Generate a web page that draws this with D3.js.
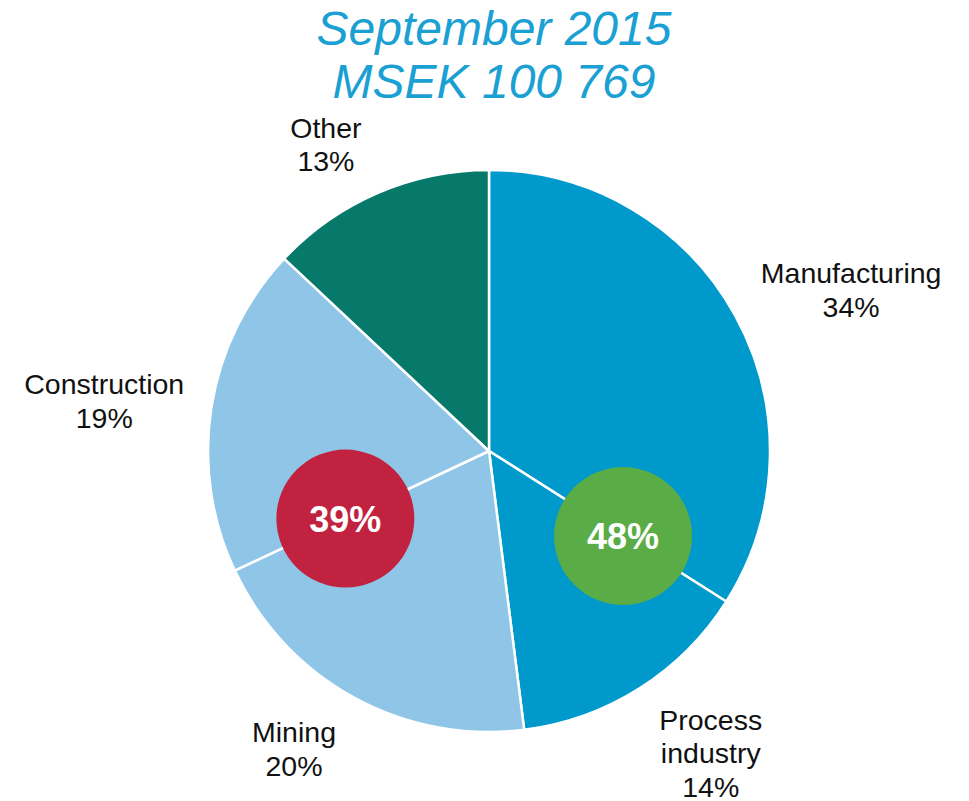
<!DOCTYPE html>
<html>
<head>
<meta charset="utf-8">
<script src="https://cdn.jsdelivr.net/npm/d3@7"></script>
<style>
  html, body { margin: 0; padding: 0; background: #ffffff; }
  svg { display: block; }
</style>
</head>
<body>
<script>
var width = 969;
var height = 801;

// data
var titleLines = ["September 2015", "MSEK 100 769"];
var categories = ["Manufacturing", "Process industry", "Mining", "Construction", "Other"];
var shares = [34, 14, 20, 19, 13];
var labelLines = [["Manufacturing"], ["Process", "industry"], ["Mining"], ["Construction"], ["Other"]];
var groupMembers = [["Manufacturing", "Process industry"], ["Mining", "Construction"]];

var sliceColors = ["#0099cc", "#0099cc", "#8fc6e7", "#8fc6e7", "#06796b"];
var groupColors = ["#5aad46", "#c1223f"];
var titleColor = "#1aa0d2";
var fontFamily = "'Liberation Sans', Arial, sans-serif";

var cx = 489, cy = 451, radius = 281;
var lineHeight = 33.5;
var labelFontSize = 28.5;
// small nudges so labels sit where the original put them
var labelNudge = {
  "Manufacturing": [42, 15],
  "Process industry": [26, -6],
  "Mining": [-19, -22],
  "Construction": [-24, 7],
  "Other": [-18, 29]
};

var rows = categories.map(function(c, i) {
  return { name: c, value: shares[i], lines: labelLines[i], color: sliceColors[i] };
});

var svg = d3.select("body").append("svg")
  .attr("width", width)
  .attr("height", height);

svg.append("text")
  .attr("x", 494)
  .attr("y", 45)
  .attr("text-anchor", "middle")
  .attr("font-family", fontFamily)
  .attr("font-style", "italic")
  .attr("font-size", 48)
  .attr("fill", titleColor)
  .selectAll("tspan")
  .data(titleLines)
  .enter()
  .append("tspan")
    .attr("x", 494)
    .attr("dy", function(d, i) { return i === 0 ? 0 : 53; })
    .text(function(d) { return d; });

var pie = d3.pie()
  .sort(null)
  .value(function(d) { return d.value; });

var arcs = pie(rows);

var arc = d3.arc()
  .innerRadius(0)
  .outerRadius(radius);

var labelArc = d3.arc()
  .innerRadius(radius * 1.3)
  .outerRadius(radius * 1.3);

var g = svg.append("g")
  .attr("transform", "translate(" + cx + "," + cy + ")");

g.selectAll("path.slice")
  .data(arcs)
  .enter()
  .append("path")
    .classed("slice", true)
    .attr("d", arc)
    .attr("fill", function(d) { return d.data.color; })
    .attr("stroke", "#ffffff")
    .attr("stroke-width", 2.5)
    .attr("stroke-linejoin", "round");

var labels = g.selectAll("text.slice-label")
  .data(arcs)
  .enter()
  .append("text")
    .classed("slice-label", true)
    .attr("font-family", fontFamily)
    .attr("font-size", labelFontSize)
    .attr("fill", "#111111")
    .attr("text-anchor", "middle")
    .attr("transform", function(d) {
      var c = labelArc.centroid(d);
      var n = labelNudge[d.data.name] || [0, 0];
      var total = d.data.lines.length + 1;
      var top = c[1] + n[1] - (total - 1) * lineHeight / 2;
      return "translate(" + (c[0] + n[0]) + "," + top + ")";
    });

labels.selectAll("tspan")
  .data(function(d) { return d.data.lines.concat([d.data.value + "%"]); })
  .enter()
  .append("tspan")
    .attr("x", 0)
    .attr("y", function(d, i) { return i * lineHeight + 10; })
    .text(function(d) { return d; });

// highlight bubbles sit on the border between the two slices of each group
var bubbleRadius = 69;
var bubbles = groupMembers.map(function(members, i) {
  var parts = arcs.filter(function(a) { return members.indexOf(a.data.name) >= 0; });
  var total = d3.sum(parts, function(a) { return a.data.value; });
  var angle = parts[0].endAngle;
  var r = radius * 0.565;
  return {
    x: r * Math.sin(angle),
    y: -r * Math.cos(angle),
    text: total + "%",
    color: groupColors[i]
  };
});

var bubble = g.selectAll("g.bubble")
  .data(bubbles)
  .enter()
  .append("g")
    .classed("bubble", true)
    .attr("transform", function(d) { return "translate(" + d.x + "," + d.y + ")"; });

bubble.append("circle")
  .attr("r", bubbleRadius)
  .attr("fill", function(d) { return d.color; });

bubble.append("text")
  .attr("text-anchor", "middle")
  .attr("y", 13)
  .attr("font-family", fontFamily)
  .attr("font-weight", "bold")
  .attr("font-size", 36)
  .attr("fill", "#ffffff")
  .text(function(d) { return d.text; });
</script>
</body>
</html>
